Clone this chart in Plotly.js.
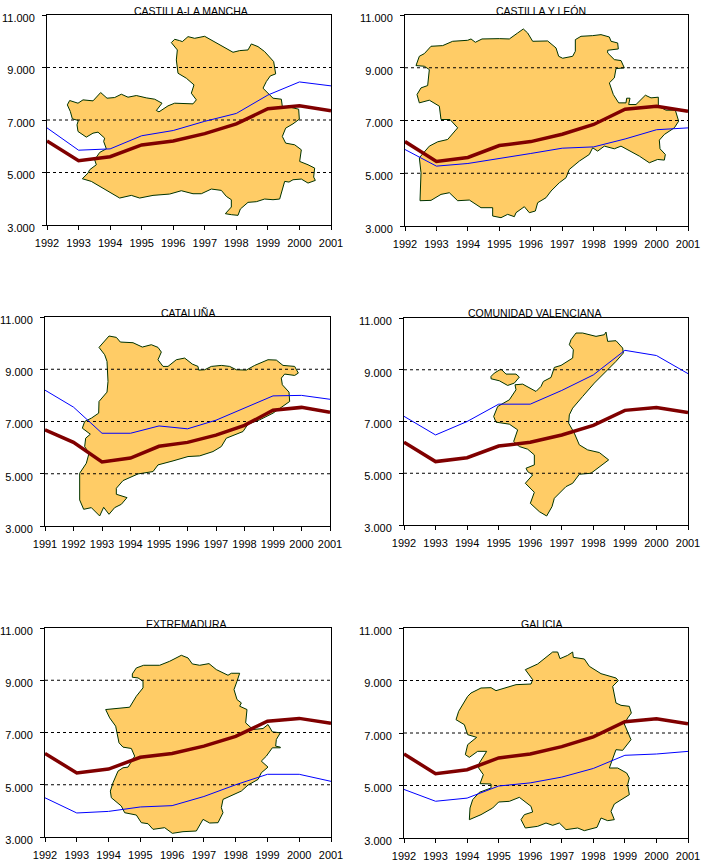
<!DOCTYPE html>
<html><head><meta charset="utf-8">
<script src="https://cdn.plot.ly/plotly-3.0.1.min.js"></script>
<style>html,body{margin:0;padding:0;background:#fff}</style></head>
<body><div id="chart" style="width:703px;height:861px"></div>
<script>
const years92 = [1992,1993,1994,1995,1996,1997,1998,1999,2000,2001];
const years91 = [1991,1992,1993,1994,1995,1996,1997,1998,1999,2000,2001];
const yTickVals = [3000,5000,7000,9000,11000];
const yTickText = ['3.000','5.000','7.000','9.000','11.000'];
const gridVals = [5000,7000,9000];

const spain92 = [6200,5450,5600,6050,6200,6480,6850,7430,7540,7350];
const spain91 = [6680,6200,5450,5600,6050,6200,6480,6850,7430,7540,7350];

const blueCLM = [6700,5850,5900,6400,6600,6950,7250,7950,8450,8300];
const blueCYL = [5900,5270,5370,5550,5750,5950,6000,6300,6650,6720];
const blueCAT = [8200,7550,6550,6550,6830,6720,7050,7500,7980,8000,7850];
const blueVAL = [7200,6480,7000,7670,7670,8200,8800,9750,9550,8850];
const blueEXT = [4500,3920,3980,4150,4200,4550,5000,5400,5400,5130];
const blueGAL = [4850,4400,4520,4980,5100,5320,5650,6150,6200,6300];

/* Region silhouettes, traced as x,y pairs in the units of the source drawing */
const mapCLM = [515,128,525,118,540,122,548,125,565,110,585,115,615,109,640,122,670,140,700,157,720,152,745,150,755,132,775,140,795,155,822,185,828,222,812,228,800,245,790,265,805,280,820,295,845,298,848,320,875,323,897,328,899,358,880,372,858,385,848,410,858,430,885,435,905,450,900,485,925,495,945,505,942,532,947,542,925,550,905,538,880,540,868,547,855,545,848,570,840,598,820,600,795,598,770,606,745,608,722,628,715,647,695,645,677,642,695,622,695,600,680,590,665,572,635,568,605,582,580,582,545,573,510,583,460,587,420,595,395,587,360,595,335,580,310,565,275,545,248,537,265,520,270,510,290,495,285,480,300,458,320,447,312,425,315,415,295,397,280,400,260,412,235,395,232,375,236,362,218,357,212,335,203,315,210,302,235,310,250,300,280,303,303,278,322,295,345,293,365,283,385,292,410,287,440,294,465,298,487,310,470,332,478,336,505,318,525,310,580,312,590,300,575,280,583,255,560,235,535,220,530,180,533,150,515,128];
const mapCYL = [190,198,200,170,215,162,235,140,270,138,300,125,345,122,355,118,368,128,388,118,440,117,470,118,495,100,512,88,525,100,540,125,585,124,610,145,618,170,630,176,660,170,668,155,668,120,685,110,720,108,745,105,770,112,775,125,795,130,797,148,765,152,765,160,785,180,805,183,815,205,790,207,785,235,770,250,782,285,798,310,820,310,822,296,832,296,828,315,850,315,878,287,895,295,917,293,917,320,940,332,968,332,978,365,965,385,935,405,920,422,922,448,938,465,935,482,915,480,890,490,860,470,805,440,785,448,755,440,735,455,720,445,710,465,680,485,650,510,640,535,620,550,595,575,580,595,555,610,548,635,530,640,515,622,490,640,485,652,465,645,445,655,420,650,420,625,385,625,350,602,315,604,290,580,265,585,235,603,202,604,205,520,200,475,230,440,255,427,285,420,315,385,292,360,265,360,260,320,230,302,200,310,193,285,205,265,225,258,230,210,215,200,190,198];
const mapCAT = [298,128,328,94,350,98,362,112,400,114,428,127,455,120,475,128,485,142,475,165,490,185,505,185,530,165,555,160,578,178,595,185,597,196,615,195,635,185,665,182,690,185,710,195,740,196,765,182,805,165,830,166,850,182,885,185,896,205,885,212,855,208,845,220,848,240,868,262,870,290,850,305,820,325,780,345,745,358,730,380,680,400,665,425,640,440,600,453,565,455,520,468,475,480,460,500,415,507,370,527,350,550,350,568,382,578,365,598,345,608,328,628,312,607,300,633,275,608,252,613,240,585,240,505,260,475,268,445,255,425,258,400,272,388,248,370,255,350,275,340,297,325,298,290,322,262,325,230,322,170,315,150,298,128];
const mapVAL = [655,105,670,85,690,85,730,95,755,90,760,82,765,110,790,108,810,130,812,145,790,170,770,190,745,215,725,235,690,275,660,310,650,330,648,355,665,385,680,420,705,435,740,443,768,465,740,485,715,505,680,508,660,535,640,545,605,580,598,605,582,633,560,620,533,595,545,562,518,535,540,510,525,500,520,490,545,480,545,450,525,433,500,425,483,410,495,375,470,358,430,352,423,335,435,305,470,285,490,255,487,240,510,238,530,250,550,260,565,245,572,230,595,218,605,188,625,182,660,160,662,135,650,120,655,105];
const mapVALenclave = [415,215,425,205,445,193,460,208,490,208,500,217,485,235,465,242,440,228,415,222,415,215];
const mapEXT = [398,188,410,170,432,162,480,162,510,150,545,132,565,140,578,158,600,162,628,157,650,175,685,192,695,186,720,186,712,210,703,235,712,265,725,275,720,285,742,295,738,335,760,355,790,352,805,340,818,362,842,365,830,385,828,405,842,408,842,410,818,410,800,435,785,450,805,468,785,485,775,505,745,522,725,540,670,565,665,590,670,605,655,635,630,636,610,625,590,660,550,662,518,667,495,650,460,655,445,638,425,635,410,612,375,605,365,585,335,560,332,540,340,515,355,480,370,470,385,468,405,435,395,412,370,408,358,395,348,345,330,320,318,295,345,293,390,288,410,255,430,230,430,210,415,200,398,198,398,188];
const mapGAL = [518,175,555,158,600,122,615,122,622,142,645,132,660,122,662,138,695,143,710,165,745,187,765,192,790,200,797,208,780,225,790,275,805,282,830,285,836,305,825,320,815,338,835,385,810,417,790,415,770,470,795,470,822,485,830,500,825,520,830,550,785,578,775,600,785,625,765,628,745,620,733,648,695,658,675,650,640,655,620,635,600,642,580,635,555,645,518,650,505,625,515,610,540,602,535,585,510,565,500,558,470,570,438,572,420,590,385,610,350,625,352,590,360,565,380,543,415,530,415,518,382,517,392,490,378,470,380,455,402,420,375,420,350,438,338,430,345,400,372,378,345,370,335,340,310,325,318,300,345,255,355,245,385,230,415,229,430,238,460,228,490,220,535,218,540,205,518,175];

const W = 703, H = 861;
const panels = [
 {title:'CASTILLA-LA MANCHA', years:years92, spain:spain92, blue:blueCLM, maps:[mapCLM], box:[47,331,15,225], src:[142,994,45,676], tx:190.5, ty:10.5},
 {title:'CASTILLA Y LEÓN', years:years92, spain:spain92, blue:blueCYL, maps:[mapCYL], box:[405,688,15,226], src:[157,1006,46,680], tx:541, ty:10.5},
 {title:'CATALUÑA', years:years91, spain:spain91, blue:blueCAT, maps:[mapCAT], box:[45,330,317,526], src:[136,991,37,663], tx:188, ty:313},
 {title:'COMUNIDAD VALENCIANA', years:years92, spain:spain92, blue:blueVAL, maps:[mapVAL,mapVALenclave], box:[404,688,318,525], src:[154,1006,40,660], tx:534, ty:313},
 {title:'EXTREMADURA', years:years92, spain:spain92, blue:blueEXT, maps:[mapEXT], box:[45,331,628,837], src:[136,994,50,678], tx:186, ty:623.5},
 {title:'GALICIA', years:years92, spain:spain92, blue:blueGAL, maps:[mapGAL], box:[404,688,628,838], src:[154,1006,50,680], tx:541, ty:623.5}
];

const font = {family:'"Liberation Sans", Arial, sans-serif', size:11, color:'#000'};
const traces = [], annotations = [];
const layout = {width:W, height:H, margin:{l:0,r:0,t:0,b:0}, paper_bgcolor:'#fff', plot_bgcolor:'#fff',
  showlegend:false, font:font, annotations:annotations};

panels.forEach((p,i)=>{
  const s = i===0 ? '' : String(i+1);
  const xa='x'+s, ya='y'+s;
  const x0=p.years[0], x1=p.years[p.years.length-1];
  const [sl,sr,st,sb]=p.src;
  const toX=u=>x0+(u-sl)/(sr-sl)*(x1-x0);
  const toY=v=>3000+(sb-v)/(sb-st)*8000;
  const mx=[],my=[];
  p.maps.forEach((m,k)=>{
    if(k){mx.push(null);my.push(null);}
    for(let j=0;j<m.length;j+=2){mx.push(toX(m[j]));my.push(toY(m[j+1]));}
  });
  traces.push({type:'scatter',mode:'lines',x:mx,y:my,xaxis:xa,yaxis:ya,fill:'toself',fillcolor:'#FFCC66',
    line:{color:'#003300',width:1},hoverinfo:'skip'});
  gridVals.forEach(g=>traces.push({type:'scatter',mode:'lines',x:[x0,x1],y:[g,g],xaxis:xa,yaxis:ya,
    line:{color:'#000',width:1,dash:'3px,3px'},hoverinfo:'skip'}));
  traces.push({type:'scatter',mode:'lines',x:p.years,y:p.blue,xaxis:xa,yaxis:ya,line:{color:'#0000FF',width:1}});
  traces.push({type:'scatter',mode:'lines',x:p.years,y:p.spain,xaxis:xa,yaxis:ya,cliponaxis:false,line:{color:'#800000',width:3.5}});
  const [l,r,t,b]=p.box;
  const common={showgrid:false,zeroline:false,showline:true,mirror:true,linecolor:'#000',linewidth:1,
    ticks:'outside',ticklen:4,tickcolor:'#000',tickwidth:1,tickfont:font};
  layout['xaxis'+s]=Object.assign({},common,{domain:[l/W,r/W],range:[x0,x1],anchor:ya,tickmode:'array',
    tickvals:p.years,ticktext:p.years.map(String),ticklabelstandoff:4,tickangle:0});
  layout['yaxis'+s]=Object.assign({},common,{domain:[1-b/H,1-t/H],range:[3000,11000],anchor:xa,tickmode:'array',
    tickvals:yTickVals,ticktext:yTickText,ticklabelstandoff:5,ticklabelshift:3});
  annotations.push({text:p.title,xref:'paper',yref:'paper',x:p.tx/W,y:1-p.ty/H,xanchor:'center',yanchor:'middle',
    showarrow:false,font:{family:font.family,size:10.5,color:'#000'}});
});
Plotly.newPlot('chart',traces,layout,{displayModeBar:false,staticPlot:true});
</script></body></html>
